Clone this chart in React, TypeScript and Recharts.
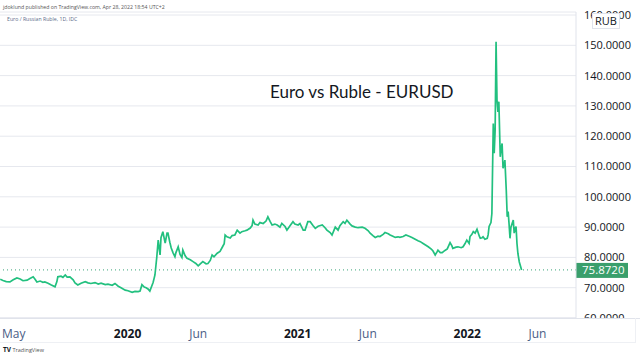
import { LineChart, Line, XAxis, YAxis, CartesianGrid, ReferenceLine } from 'recharts';

// EUR/RUB daily close
const dates2019 = ['2019-04-02', '2019-04-08', '2019-04-15', '2019-04-23', '2019-04-30', '2019-05-08', '2019-05-15', '2019-05-21', '2019-05-30', '2019-06-05', '2019-06-12', '2019-06-16', '2019-06-20', '2019-06-27', '2019-07-03', '2019-07-07', '2019-07-14', '2019-07-20', '2019-07-29', '2019-08-02', '2019-08-04', '2019-08-11', '2019-08-15', '2019-08-20', '2019-08-24', '2019-08-30', '2019-09-06', '2019-09-10', '2019-09-16', '2019-09-23', '2019-10-02', '2019-10-08', '2019-10-14', '2019-10-23', '2019-10-30', '2019-11-05', '2019-11-14', '2019-11-20', '2019-11-29', '2019-12-05', '2019-12-12', '2019-12-18', '2019-12-27'];
const rates2019 = [72.8, 72.4, 72.0, 71.9, 72.6, 73.2, 72.9, 72.3, 72.5, 73.0, 73.6, 72.8, 71.9, 72.2, 71.8, 71.9, 71.5, 71.0, 70.3, 72.0, 73.6, 73.8, 73.4, 74.2, 73.5, 73.6, 72.6, 71.6, 70.9, 71.5, 72.0, 71.6, 71.4, 71.7, 71.2, 71.5, 71.0, 71.2, 70.8, 71.4, 70.5, 70.0, 69.2];

const dates2020 = ['2020-01-02', '2020-01-11', '2020-01-17', '2020-01-24', '2020-01-28', '2020-02-01', '2020-02-06', '2020-02-10', '2020-02-14', '2020-02-18', '2020-02-25', '2020-02-29', '2020-03-04', '2020-03-07', '2020-03-11', '2020-03-13', '2020-03-17', '2020-03-22', '2020-03-26', '2020-03-28', '2020-04-01', '2020-04-04', '2020-04-08', '2020-04-12', '2020-04-14', '2020-04-19', '2020-04-23', '2020-04-27', '2020-04-29', '2020-05-04', '2020-05-08', '2020-05-15', '2020-05-21', '2020-05-27', '2020-06-01', '2020-06-05', '2020-06-11', '2020-06-18', '2020-06-22', '2020-06-27', '2020-07-01', '2020-07-05', '2020-07-12', '2020-07-18', '2020-07-22', '2020-07-27', '2020-07-29', '2020-08-02', '2020-08-09', '2020-08-13', '2020-08-19', '2020-08-24', '2020-08-30', '2020-09-03', '2020-09-10', '2020-09-14', '2020-09-21', '2020-09-25', '2020-09-27', '2020-10-01', '2020-10-08', '2020-10-12', '2020-10-19', '2020-10-25', '2020-10-29', '2020-11-03', '2020-11-07', '2020-11-13', '2020-11-18', '2020-11-24', '2020-11-28', '2020-12-05', '2020-12-09', '2020-12-16', '2020-12-22', '2020-12-26'];
const rates2020 = [69.0, 68.5, 68.8, 68.7, 68.9, 71.0, 70.2, 70.0, 69.6, 68.9, 71.7, 74.2, 80.2, 85.7, 80.8, 86.5, 88.5, 84.7, 88.0, 88.0, 85.0, 83.1, 81.5, 80.2, 81.5, 83.5, 81.0, 80.0, 82.4, 80.5, 79.7, 79.2, 78.6, 78.0, 77.2, 77.8, 78.6, 77.9, 78.0, 79.0, 80.8, 80.2, 81.4, 82.0, 83.1, 84.5, 87.4, 86.8, 86.4, 87.2, 87.4, 89.0, 88.0, 88.5, 88.8, 89.0, 89.7, 90.5, 92.3, 91.0, 90.7, 91.5, 91.2, 92.0, 93.4, 91.8, 90.7, 91.0, 90.7, 90.0, 91.2, 90.2, 89.0, 90.5, 91.8, 91.0];

const dates2021 = ['2021-01-02', '2021-01-06', '2021-01-13', '2021-01-17', '2021-01-23', '2021-01-28', '2021-02-03', '2021-02-08', '2021-02-14', '2021-02-23', '2021-03-01', '2021-03-05', '2021-03-12', '2021-03-16', '2021-03-23', '2021-03-29', '2021-04-02', '2021-04-09', '2021-04-13', '2021-04-17', '2021-04-24', '2021-04-28', '2021-05-05', '2021-05-11', '2021-05-20', '2021-05-26', '2021-06-02', '2021-06-06', '2021-06-12', '2021-06-17', '2021-06-23', '2021-06-27', '2021-07-04', '2021-07-08', '2021-07-15', '2021-07-19', '2021-07-25', '2021-07-30', '2021-08-05', '2021-08-09', '2021-08-16', '2021-08-22', '2021-08-29', '2021-09-04', '2021-09-11', '2021-09-17', '2021-09-22', '2021-09-28', '2021-10-04', '2021-10-09', '2021-10-15', '2021-10-19', '2021-10-24', '2021-10-28', '2021-10-30', '2021-11-04', '2021-11-08', '2021-11-14', '2021-11-19', '2021-11-25', '2021-11-29', '2021-12-01', '2021-12-08', '2021-12-12', '2021-12-19', '2021-12-23', '2021-12-27', '2021-12-31'];
const rates2021 = [90.7, 91.2, 89.0, 89.0, 91.8, 91.8, 90.5, 89.6, 90.3, 90.7, 89.8, 89.0, 88.2, 87.4, 90.0, 89.0, 90.5, 91.8, 91.2, 92.3, 91.0, 90.4, 90.0, 89.8, 90.0, 89.6, 88.8, 88.0, 87.2, 86.6, 87.0, 86.9, 87.6, 88.2, 87.8, 87.4, 87.0, 86.6, 86.8, 86.6, 86.9, 87.4, 87.0, 86.6, 86.0, 85.5, 85.2, 84.6, 84.0, 83.5, 82.8, 82.2, 80.8, 81.8, 82.4, 81.6, 81.6, 82.3, 82.8, 84.9, 83.8, 83.0, 83.4, 83.5, 83.2, 83.5, 84.5, 85.7];

const dates2022 = ['2022-01-05', '2022-01-07', '2022-01-11', '2022-01-14', '2022-01-18', '2022-01-22', '2022-01-27', '2022-01-29', '2022-02-02', '2022-02-04', '2022-02-08', '2022-02-13', '2022-02-15', '2022-02-17', '2022-02-21', '2022-02-23', '2022-02-26', '2022-02-28', '2022-03-02', '2022-03-04', '2022-03-06', '2022-03-08', '2022-03-10', '2022-03-13', '2022-03-15', '2022-03-17', '2022-03-19', '2022-03-21', '2022-03-23', '2022-03-26', '2022-03-28', '2022-03-30', '2022-04-01', '2022-04-03', '2022-04-05', '2022-04-10', '2022-04-12', '2022-04-14', '2022-04-16', '2022-04-18', '2022-04-20', '2022-04-23', '2022-04-28'];
const rates2022 = [84.6, 86.9, 87.6, 88.5, 88.0, 89.3, 87.0, 86.3, 86.5, 86.8, 86.0, 86.3, 87.5, 90.2, 91.5, 94.5, 124.2, 114.4, 122.0, 151.2, 132.0, 128.0, 131.4, 113.2, 116.0, 117.6, 109.4, 110.5, 112.1, 102.0, 93.4, 95.1, 91.0, 86.3, 90.0, 92.3, 88.0, 89.5, 90.2, 84.6, 81.3, 78.5, 75.872];

const timeTicks = ['2019-05-01', '2020-01-01', '2020-06-01', '2021-01-01', '2021-06-01', '2022-01-01', '2022-06-01'];
const timeLabels = ['May', '2020', 'Jun', '2021', 'Jun', '2022', 'Jun'];
const priceTicks = [60, 70, 80, 90, 100, 110, 120, 130, 140, 150, 160];
const lastPrice = 75.872;

const allDates = [...dates2019, ...dates2020, ...dates2021, ...dates2022];
const allRates = [...rates2019, ...rates2020, ...rates2021, ...rates2022];
const data = allDates.map((d, i) => ({ t: Date.parse(d), rate: allRates[i] }));
const tickTs = timeTicks.map((d) => Date.parse(d));

const FONT = '"Open Sans", "Liberation Sans", sans-serif';
const GREEN = '#22c07f';

function TimeTick(props: any) {
  const { x, y, payload } = props;
  const i = tickTs.indexOf(payload.value);
  const label = timeLabels[i];
  const isYear = /^\d+$/.test(label);
  return (
    <text
      x={x}
      y={y + 12}
      textAnchor="middle"
      fontSize={12}
      fontFamily={FONT}
      fontWeight={isYear ? 700 : 400}
      fill={isYear ? '#131722' : '#4a5d86'}
    >
      {label}
    </text>
  );
}

function PriceTag(props: any) {
  const { viewBox } = props;
  const x = viewBox.x + viewBox.width;
  const y = viewBox.y;
  return (
    <g>
      <rect x={x} y={y - 7} width={52} height={15} fill="#3a9f6c" />
      <text x={x + 6} y={y + 4} fontSize={11.5} fontFamily={FONT} fill="#ffffff">
        {lastPrice.toFixed(4)}
      </text>
    </g>
  );
}

export default function App() {
  return (
    <div style={{ position: 'relative', width: 640, height: 357, background: '#fff', fontFamily: FONT }}>
      <style>{'body{margin:0}'}</style>
      <LineChart width={640} height={357} data={data} margin={{ top: 12, right: 0, bottom: 15, left: 0 }}>
        <CartesianGrid vertical={false} stroke="#e6e8ee" />
        <XAxis
          dataKey="t"
          type="number"
          scale="time"
          domain={[Date.parse('2019-04-01T14:00:00Z'), Date.parse('2022-08-23')]}
          ticks={tickTs}
          interval={0}
          tick={<TimeTick />}
          tickLine={false}
          axisLine={{ stroke: '#e0e3eb' }}
          height={24}
          allowDataOverflow
        />
        <YAxis
          orientation="right"
          domain={[60, 161]}
          ticks={priceTicks}
          interval={0}
          tickFormatter={(v: number) => v.toFixed(4)}
          tick={{ fontSize: 11, fill: '#131722', fontFamily: FONT }}
          tickLine={false}
          axisLine={{ stroke: '#e0e3eb' }}
          width={64}
          allowDataOverflow
        />
        <ReferenceLine y={lastPrice} stroke="#3aa579" strokeDasharray="1 3" label={<PriceTag />} />
        <Line type="linear" dataKey="rate" stroke={GREEN} strokeWidth={1.7} dot={false} isAnimationActive={false} />
      </LineChart>

      {/* cover the part of the axis below the price pane */}
      <div style={{ position: 'absolute', left: 577, top: 319, width: 63, height: 38, background: '#fff' }} />
      <div style={{ position: 'absolute', left: 0, top: 318, width: 640, height: 1, background: '#e0e3eb' }} />
      <div style={{ position: 'absolute', left: 0, top: 342, width: 636, height: 1, background: '#eef0f4' }} />
      <div style={{ position: 'absolute', left: 635, top: 318, width: 1, height: 25, background: '#eef0f4' }} />

      <div style={{ position: 'absolute', left: 3, top: 3, fontSize: 5.2, color: '#555', whiteSpace: 'nowrap' }}>
        jdoklund published on TradingView.com, Apr 28, 2022 18:54 UTC+2
      </div>
      <div style={{ position: 'absolute', left: 7, top: 15, fontSize: 5.2, color: '#5d6c8a', whiteSpace: 'nowrap' }}>
        Euro / Russian Ruble, 1D, IDC
      </div>
      <div
        style={{
          position: 'absolute',
          left: 592,
          top: 13,
          width: 26,
          height: 14,
          border: '1px solid #e0e3eb',
          background: '#fff',
          fontSize: 11,
          lineHeight: '14px',
          textAlign: 'center',
          color: '#131722',
        }}
      >
        RUB
      </div>
      <div
        style={{
          position: 'absolute',
          left: 270,
          top: 81,
          fontSize: 17,
          fontFamily: 'Lato, sans-serif',
          color: '#131722',
          whiteSpace: 'nowrap',
        }}
      >
        Euro vs Ruble - EURUSD
      </div>
      <div style={{ position: 'absolute', left: 3, top: 345, fontSize: 5.5, color: '#555', whiteSpace: 'nowrap' }}>
        <b style={{ color: '#131722', fontSize: 6.5 }}>TV</b> TradingView
      </div>
    </div>
  );
}
